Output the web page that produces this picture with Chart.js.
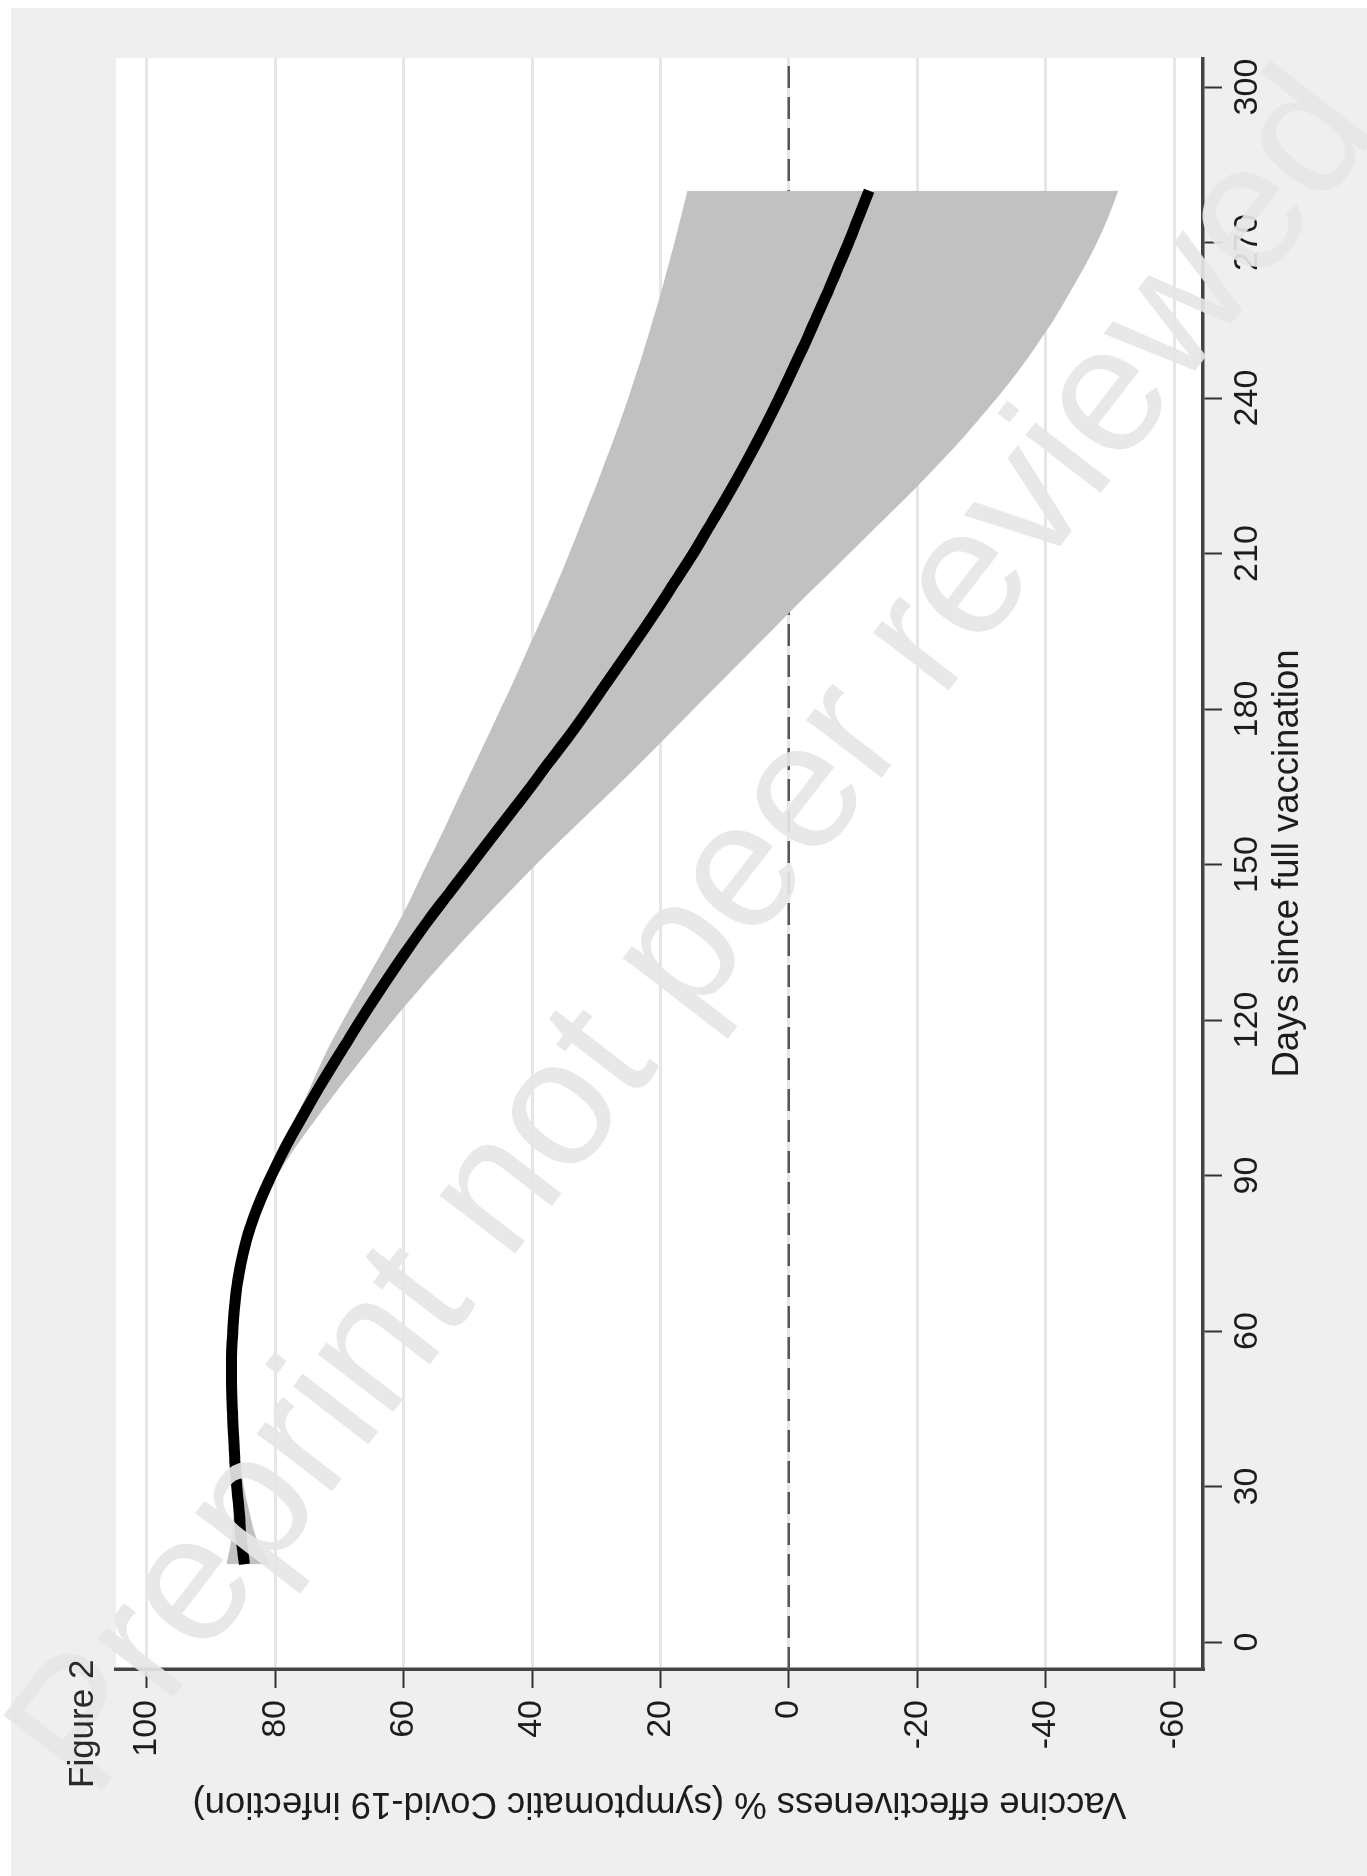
<!DOCTYPE html>
<html>
<head>
<meta charset="utf-8">
<title>Figure 2</title>
<script src="https://cdn.jsdelivr.net/npm/chart.js@4.4.1/dist/chart.umd.min.js"></script>
<style>
    html, body { margin: 0; padding: 0; background: #ffffff; }
    body { width: 1367px; height: 1876px; position: relative; overflow: hidden; }
    #bg { position: absolute; left: 11px; top: 8px; right: 0; bottom: 0; background: #efefef; }
    /* the figure is printed on its side: draw it upright, then turn it */
    #page { position: absolute; left: 0; top: 0; width: 1876px; height: 1367px;
            transform-origin: 0 0; transform: translate(0, 1876px) rotate(-90deg); }
    #page canvas { position: absolute; left: 0; top: 0; }
    #mark { position: absolute; left: 687px; top: 928px; white-space: nowrap; line-height: 1;
            transform: translate(-50%, -50%) rotate(-52.4deg);
            font: 180px 'Liberation Sans', Arial, sans-serif; color: #e6e6e6; opacity: 0.92; }
    #fig { position: absolute; left: 0; top: 0; transform-origin: 0 0;
           transform: translate(63px, 1788px) rotate(-90deg);
           font: 35px 'Liberation Sans', Arial, sans-serif; color: #2a2a2a; line-height: 1; white-space: nowrap; }
</style>
</head>
<body>
<div id="bg"></div>
<div id="page">
    <canvas id="myChart" width="1876" height="1367"></canvas>
</div>
<div id="mark">Preprint not peer reviewed</div>
<div id="fig">Figure 2</div>

<script>
/* Vaccine effectiveness against symptomatic infection by days since full vaccination. */

// axis ranges and ticks
const dayRange = [-5.2, 305.6];
const veRange = [-64.5, 104.8];
const dayTicks = [0, 30, 60, 90, 120, 150, 180, 210, 240, 270, 300];
const veTicks = [-60, -40, -20, 0, 20, 40, 60, 80, 100];

// reference line at 0
const refDays = [-5.2, 305.6];
const refVE = [0, 0];

// estimate and 95% band, read every 5 days
const days = [15, 20, 25, 30, 35, 40, 45, 50, 55, 60, 65, 70, 75, 80, 85, 90, 95, 100,
    105, 110, 115, 120, 125, 130, 135, 140, 145, 150, 155, 160, 165, 170, 175, 180,
    185, 190, 195, 200, 205, 210, 215, 220, 225, 230, 235, 240, 245, 250, 255, 260,
    265, 270, 275, 280];
const veLine = [84.8, 85.3, 85.6, 86.0, 86.3, 86.5, 86.7, 86.8, 86.8, 86.6, 86.3, 85.8, 85.0, 83.9, 82.4, 80.6, 78.6, 76.4,
    74.1, 71.7, 69.2, 66.7, 64.1, 61.4, 58.6, 55.7, 52.6, 49.5, 46.4, 43.3, 40.2, 37.2, 34.1, 31.2,
    28.4, 25.6, 22.8, 20.1, 17.5, 14.9, 12.5, 10.1, 7.8, 5.6, 3.5, 1.5, -0.4, -2.3, -4.1, -5.9,
    -7.6, -9.3, -10.9, -12.5];
const veUpper = [87.6, 86.8, 86.5, 86.6, 86.8, 87.0, 87.1, 87.2, 87.2, 87.0, 86.7, 86.2, 85.4, 84.3, 82.9, 81.2, 79.3, 77.3,
    75.3, 73.5, 71.6, 69.4, 67.1, 64.8, 62.5, 60.3, 58.3, 56.4, 54.4, 52.5, 50.6, 48.7, 46.8, 44.9,
    43.0, 41.2, 39.4, 37.6, 35.9, 34.2, 32.6, 31.0, 29.4, 27.9, 26.4, 25.0, 23.7, 22.4, 21.2, 20.0,
    18.9, 17.8, 16.8, 15.8];
const veLower = [80.8, 82.9, 84.0, 84.9, 85.5, 85.9, 86.1, 86.3, 86.3, 86.1, 85.8, 85.3, 84.5, 83.4, 81.8, 79.7, 77.1, 74.2,
    71.2, 68.1, 64.9, 61.6, 58.2, 54.7, 51.0, 47.2, 43.3, 39.4, 35.3, 31.1, 26.9, 22.8, 18.8, 14.8,
    10.8, 6.8, 2.8, -1.2, -5.3, -9.4, -13.5, -17.6, -21.6, -25.4, -29.0, -32.4, -35.6, -38.5, -41.2, -43.6,
    -45.9, -48.0, -49.8, -51.3];

const points = (xs, ys) => xs.map((x, i) => ({x: x, y: ys[i]}));

const family = "'Liberation Sans', Arial, Helvetica, sans-serif";

// white plot region on the grey graph region
const plotBackground = {
    id: 'plotBackground',
    beforeDraw(chart) {
        const {ctx, chartArea: a} = chart;
        ctx.save();
        ctx.fillStyle = '#ffffff';
        ctx.fillRect(a.left, a.top, a.right - a.left, a.bottom - a.top);
        ctx.restore();
    }
};

const myChart = document.getElementById("myChart");

const lineChart = new Chart(myChart, {
    type: 'line',
    data: {
        datasets: [
            {
                label: 'VE',
                data: points(days, veLine),
                borderColor: '#000000',
                borderWidth: 11,
                borderCapStyle: 'butt',
                pointRadius: 0,
                cubicInterpolationMode: 'monotone',
                fill: false,
                order: 0
            },
            {
                label: 'Upper',
                data: points(days, veUpper),
                borderWidth: 0,
                pointRadius: 0,
                cubicInterpolationMode: 'monotone',
                backgroundColor: '#c1c1c1',
                fill: '+1',             // fill down to the lower bound
                order: 1
            },
            {
                label: 'Lower',
                data: points(days, veLower),
                borderWidth: 0,
                pointRadius: 0,
                cubicInterpolationMode: 'monotone',
                fill: false,
                order: 2
            },
            {
                label: 'Zero',
                data: points(refDays, refVE),
                borderColor: '#555555',
                borderWidth: 2.5,
                borderDash: [22, 9],
                pointRadius: 0,
                fill: false,
                order: 3
            }
        ]
    },
    options: {
        responsive: false,
        animation: false,
        devicePixelRatio: 1,
        layout: {
            padding: {top: 116, right: 58, bottom: 0, left: 0}
        },
        plugins: {
            legend: {display: false},
            tooltip: {enabled: false}
        },
        scales: {
            x: {
                type: 'linear',
                min: dayRange[0],
                max: dayRange[1],
                afterFit: (scale) => { scale.height = 164; },
                afterBuildTicks: (scale) => { scale.ticks = dayTicks.map(v => ({value: v})); },
                title: {
                    display: true,
                    text: 'Days since full vaccination',
                    color: '#1c1c1c',
                    font: {size: 36.5, family: family, lineHeight: 1.2},
                    padding: {top: 0, bottom: 57}
                },
                ticks: {
                    autoSkip: false,
                    maxRotation: 0,
                    padding: 5,
                    color: '#1c1c1c',
                    font: {size: 34, family: family, lineHeight: 1.2}
                },
                grid: {
                    drawOnChartArea: false,
                    tickLength: 19,
                    tickColor: '#333',
                    tickWidth: 2
                },
                border: {color: '#444', width: 3.5}
            },
            y: {
                type: 'linear',
                min: veRange[0],
                max: veRange[1],
                afterFit: (scale) => { scale.width = 207; },
                afterBuildTicks: (scale) => { scale.ticks = veTicks.map(v => ({value: v})); },
                title: {
                    display: true,
                    text: 'Vaccine effectiveness % (symptomatic Covid-19 infection)',
                    color: '#1c1c1c',
                    font: {size: 36.5, family: family, lineHeight: 1.2},
                    padding: {top: 51, bottom: 0}
                },
                ticks: {
                    padding: 12,
                    color: '#1c1c1c',
                    font: {size: 34, family: family, lineHeight: 1.2}
                },
                grid: {
                    color: '#e6e6e6',
                    lineWidth: 3,
                    tickLength: 19,
                    tickColor: '#333',
                    tickWidth: 2
                },
                border: {color: '#444', width: 3.5}
            }
        }
    },
    plugins: [plotBackground]
});
</script>
</body>
</html>
